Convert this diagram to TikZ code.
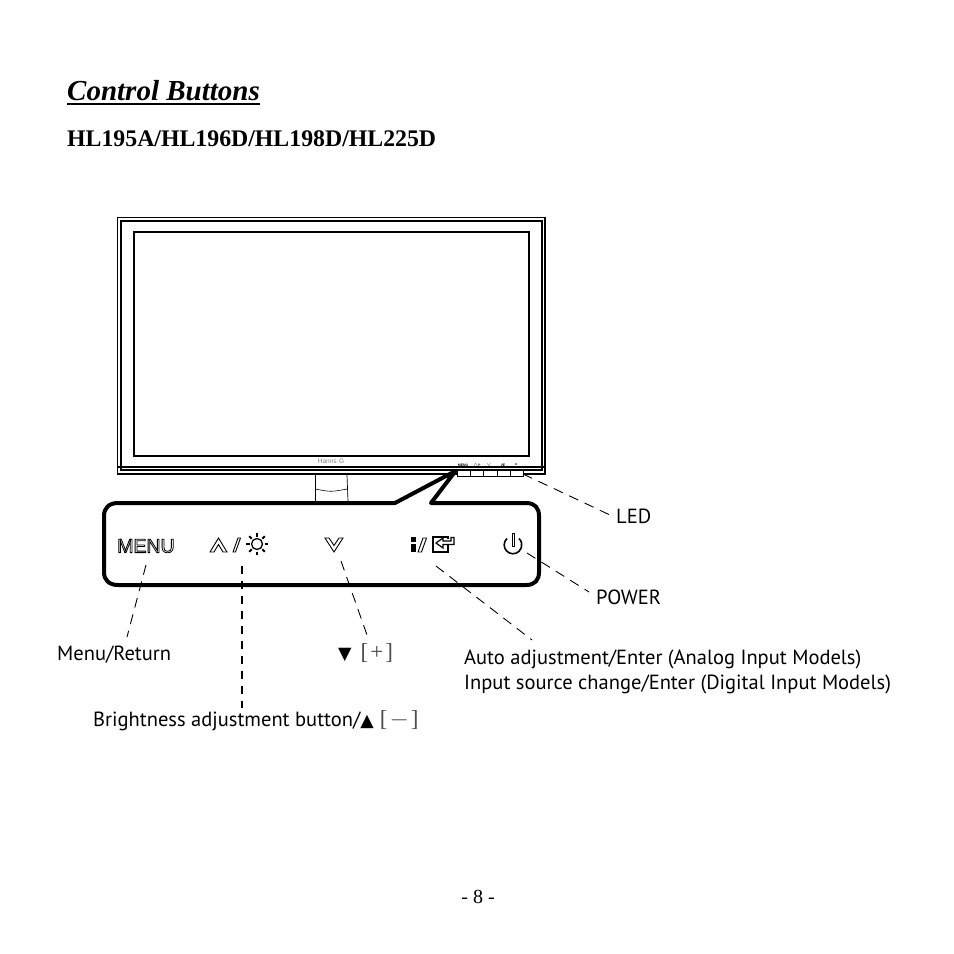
\documentclass[tikz,border=0pt]{standalone}
\usepackage{fontspec}
\setmainfont{PT Sans}
\newfontfamily\serifface{Liberation Serif}
\newfontfamily\boldface{Liberation Sans}
\newfontfamily\symbface{DejaVu Sans}
\newcommand{\outlinetext}[1]{\special{pdf:code q 1 Tr 0.8 w}#1\special{pdf:code Q}}
\newcommand{\bracketed}[1]{{\serifface\fontsize{23}{23}\selectfont\color{black!70}[\kern2pt #1\kern2pt]}}
\newcommand{\marker}[1]{{\symbface\fontsize{17.5}{17.5}\selectfont #1}}
\usetikzlibrary{calc}
\tikzstyle{label} = [inner sep=0pt, anchor=west, font=\fontsize{20.5}{25}\selectfont]
\tikzstyle{leader} = [draw, line width=0.9pt, dash pattern=on 10pt off 7pt]
\tikzstyle{leaderthick} = [draw, line width=1.7pt, dash pattern=on 8pt off 7pt]
\tikzstyle{frame} = [draw, line width=1.2pt]
\tikzstyle{icon} = [draw, line width=0.9pt, fill=white, line join=miter]
\tikzstyle{tinymark} = [inner sep=0pt, font=\fontsize{3.5}{4}\selectfont\boldface\bfseries]

\begin{document}
\begin{tikzpicture}[x=1pt, y=-1pt]
        \useasboundingbox (0,0) rectangle (954,954);
        \node[inner sep=0pt, anchor=base west, font=\fontsize{29}{30}\selectfont\serifface\bfseries\itshape] (title) at (67,100) {Control Buttons};
        \draw[line width=1.3pt] (title.base west) ++(0,4) coordinate (ulstart) -- (ulstart -| title.east);
        \node[inner sep=0pt, anchor=base west, font=\fontsize{23.8}{24}\selectfont\serifface\bfseries] (model) at (67,146) {HL195A/HL196D/HL198D/HL225D};
        \node[inner sep=0pt, anchor=base, font=\fontsize{20}{20}\selectfont\serifface] (pageno) at (478,903) {- 8 -};

        \path[frame, line width=1.3pt] (117.5,217.5) rectangle (545,474);
        \path[frame, line width=2.2pt] (121,221) rectangle (542,470);
        \path[frame, line width=2.6pt] (134,232) rectangle (529,456);
        \path[frame, line width=1.6pt] (117.5,467) -- (545,467);
        \node[inner sep=0pt, text=black!50, font=\fontsize{6.5}{7}\selectfont\boldface] (logo) at (331,461.5) {Hanns$\cdot$G};

        \path[frame, line width=0.7pt] (315,475) -- (315,501);
        \path[frame, line width=0.7pt] (347,475) -- (348,501);
        \path[frame, line width=0.6pt] (315,489) .. controls (331,492) .. (347,489);

        \foreach \xa/\xb in {457/470,470/483,483/497,497/510,510/523}
            \path[frame, line width=1pt, fill=white] (\xa,470) rectangle (\xb,476);
        \node[tinymark] (tinymenu) at (463,465) {MENU};
        \node[tinymark] (tinyup) at (477,465) {$\wedge$/*};
        \node[tinymark] (tinydown) at (489,465) {$\vee$};
        \node[tinymark] (tinyinfo) at (503,465) {i/E};
        \node[tinymark] (tinypower) at (516,465) {o};

        \path[draw, line width=4pt, line join=round, fill=white] (395,503) -- (455.5,471) -- (431,503) -- (526,503)
            .. controls (535,503) and (539,508) .. (539,516) -- (539,572)
            .. controls (539,580) and (535,585) .. (526,585) -- (118,585)
            .. controls (109,585) and (104,580) .. (104,572) -- (104,516)
            .. controls (104,508) and (109,503) .. (118,503) -- cycle;

        \node[inner sep=0pt, font=\fontsize{19.5}{20}\selectfont\boldface] (menubtn) at (146,546) {\outlinetext{MENU}};
        \path[icon] (210,552) -- (218.5,538) -- (227,552) -- (223,552) -- (218.5,544.5) -- (214,552) -- cycle;
        \path[icon] (233,552) -- (238,538) -- (240.5,538) -- (235.5,552) -- cycle;
        \draw[line width=1.3pt] (257,544) circle (5.5);
        \foreach \a in {0,45,...,315}
            \draw[line width=2pt] (257,544) ++(\a:7.5) -- ++(\a:3.5);
        \path[icon] (325,538) -- (334,552) -- (343,538) -- (339,538) -- (334,545.5) -- (329,538) -- cycle;
        \path[icon, fill=black] (411,544) rectangle (415,551.5);
        \path[icon, fill=black] (411,537.5) rectangle (415,541);
        \path[icon] (418,552) -- (423,538) -- (426.5,538) -- (421.5,552) -- cycle;
        \path[icon, line width=1.2pt, fill=none] (448,544) -- (448,552) -- (433,552) -- (433,537) -- (448,537) -- (448,539);
        \path[icon, line width=1.2pt, fill=none] (454,537.5) -- (454,544.5) -- (443,544.5) -- (443,548) -- (436,543) -- (443,538) -- (443,541) -- (451,541) -- (451,537.5) -- cycle;
        \draw[line width=1.6pt] (507,538.5) arc[start angle=227, delta angle=-274, radius=8.8];
        \path[icon, line width=0.7pt] (512,533) rectangle (514.5,546);

        \coordinate (ledtip) at (523,474);
        \coordinate (powertip) at (527,553);
        \coordinate (autotip) at (436,566);
        \coordinate (downtip) at (341,561);
        \coordinate (brighttip) at (242,566);
        \coordinate (menutip) at (146,565);

        \node[label] (led) at (616,516.5) {LED};
        \node[label] (power) at (596,597) {POWER};
        \node[label] (menulbl) at (57,655) {Menu/Return};
        \node[label] (downlbl) at (338,653) {\marker{▼}\kern9pt\bracketed{+}};
        \node[label, align=left] (autolbl) at (464,672) {Auto adjustment/Enter (Analog Input Models)\\Input source change/Enter (Digital Input Models)};
        \node[label] (brightlbl) at (93,721) {Brightness adjustment button/\marker{▲}\kern6pt\bracketed{$-$}};

        \path[leader] (ledtip) -- (610,515) coordinate (ledend);
        \path[leader] (powertip) -- (589,592) coordinate (powerend);
        \path[leader] (autotip) -- (532,640) coordinate (autoend);
        \path[leader] (downtip) -- (367,635) coordinate (downend);
        \path[leaderthick] (brighttip) -- (242,708) coordinate (brightend);
        \path[leader] (menutip) -- (127,637) coordinate (menuend);
    \end{tikzpicture}
\end{document}
